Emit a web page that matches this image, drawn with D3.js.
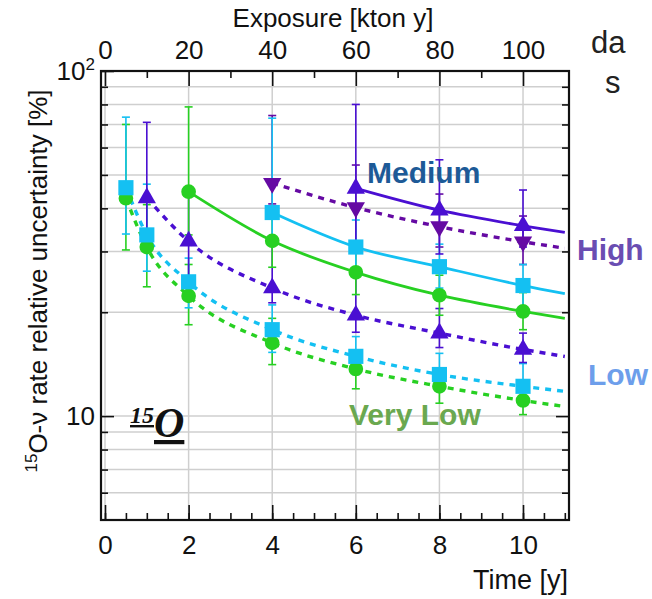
<!DOCTYPE html>
<html>
<head>
<meta charset="utf-8">
<script src="https://cdn.jsdelivr.net/npm/d3@7"></script>
<style>
  body { margin: 0; background: #fff; }
</style>
</head>
<body>
<div id="chart"></div>
<script>
// time ticks (bottom) and exposure ticks (top)
const timeTicks = [0, 2, 4, 6, 8, 10];
const exposureTicks = [0, 20, 40, 60, 80, 100];

// green circles, dashed
const vlDashT = [0.5, 1, 2, 4, 6, 8, 10];
const vlDashV = [42.8, 30.9, 22.3, 16.3, 13.7, 12.2, 11.1];
const vlDashLo = [30.3, 23.7, 18.4, 14.1, 12.0, 10.9, 10.1];
const vlDashHi = [70, 41, 27.5, 19.2, 15.5, 13.7, 12.3];

// cyan squares, dashed
const lowDashT = [0.5, 1, 2, 4, 6, 8, 10];
const lowDashV = [45.9, 33.5, 24.5, 17.8, 14.9, 13.2, 12.2];
const lowDashLo = [33.7, 26.3, 20.6, 15.3, 13.2, 11.8, 11.0];
const lowDashHi = [73.5, 47, 28.7, 21, 17, 15.2, 14.2];

// purple up triangles, dashed
const triDashT = [1, 2, 4, 6, 8, 10];
const triDashV = [42.9, 32.1, 23.5, 19.6, 17.4, 15.6];
const triDashLo = [30.9, 25.2, 21.3, 17.5, 15.8, 14.3];
const triDashHi = [71, 45.9, 31.9, 25.6, 20.5, 17.4];

// dark purple down triangles, dashed
const downDashT = [4, 6, 8, 10];
const downDashV = [47.3, 40.2, 35.4, 32.0];
const downDashLo = [41.2, 32.1, 30.9, 27.5];
const downDashHi = [74.3, 53.4, 44, 38];

// green circles, solid
const vlSolidT = [2, 4, 6, 8, 10];
const vlSolidV = [44.7, 32.2, 26.1, 22.4, 20.1];
const vlSolidLo = [33.5, 27, 22.5, 19.6, 17.8];
const vlSolidHi = [78.7, 39, 30.5, 25.6, 22.8];

// cyan squares, solid
const lowSolidT = [4, 6, 8, 10];
const lowSolidV = [38.9, 30.9, 27.1, 23.9];
const lowSolidLo = [32, 26.5, 23.5, 20.8];
const lowSolidHi = [73, 37, 31.5, 27.5];

// purple up triangles, solid
const triSolidT = [6, 8, 10];
const triSolidV = [45.7, 39.5, 35.6];
const triSolidLo = [32, 29.5, 30.9];
const triSolidHi = [80, 55.3, 45.2];

const green = "#27d022", cyan = "#14c0f2", purple = "#4a0fd2", darkPurple = "#650aa3";
const sans = "'Liberation Sans', Arial, sans-serif";

const series = [
  { t: vlDashT, v: vlDashV, lo: vlDashLo, hi: vlDashHi, color: green, shape: "circle", dash: true },
  { t: lowDashT, v: lowDashV, lo: lowDashLo, hi: lowDashHi, color: cyan, shape: "square", dash: true },
  { t: triDashT, v: triDashV, lo: triDashLo, hi: triDashHi, color: purple, shape: "up", dash: true },
  { t: downDashT, v: downDashV, lo: downDashLo, hi: downDashHi, color: darkPurple, shape: "down", dash: true },
  { t: vlSolidT, v: vlSolidV, lo: vlSolidLo, hi: vlSolidHi, color: green, shape: "circle", dash: false },
  { t: lowSolidT, v: lowSolidV, lo: lowSolidLo, hi: lowSolidHi, color: cyan, shape: "square", dash: false },
  { t: triSolidT, v: triSolidV, lo: triSolidLo, hi: triSolidHi, color: purple, shape: "up", dash: false }
];

const width = 652, height = 599;
const x = d3.scaleLinear().domain([-0.096, 11.1]).range([101, 569]);
const xE = d3.scaleLinear().domain(x.domain().map(d => d * 10)).range(x.range());
const y = d3.scaleLog().domain([5, 100]).range([520, 71]);

const svg = d3.select("#chart").append("svg")
  .attr("width", width).attr("height", height)
  .attr("font-family", sans);

// grid
const yGrid = [6, 7, 8, 9, 10, 20, 30, 40, 50, 60, 70, 80, 90];
svg.append("g").selectAll("line").data(yGrid).enter().append("line")
  .attr("x1", 101).attr("x2", 569)
  .attr("y1", d => y(d)).attr("y2", d => y(d))
  .attr("stroke", "#cfcfcf").attr("stroke-width", 1.5);
svg.append("g").selectAll("line").data(timeTicks).enter().append("line")
  .attr("x1", d => x(d)).attr("x2", d => x(d))
  .attr("y1", 71).attr("y2", 520)
  .attr("stroke", "#cfcfcf").attr("stroke-width", 1.5);

// axes
const bottomMinor = d3.range(0, 11.01, 0.5);
svg.append("g").attr("transform", "translate(0,520)")
  .call(d3.axisBottom(x).tickValues(bottomMinor).tickSize(-7).tickSizeOuter(0).tickFormat(""));
svg.append("g").attr("class", "bx").attr("transform", "translate(0,520)")
  .call(d3.axisBottom(x).tickValues(timeTicks).tickSize(-15).tickSizeOuter(0).tickPadding(16));

svg.append("g").attr("transform", "translate(0,71)")
  .call(d3.axisTop(xE).tickValues([10, 30, 50, 70, 90]).tickSize(-7).tickSizeOuter(0).tickFormat(""));
svg.append("g").attr("class", "tx").attr("transform", "translate(0,71)")
  .call(d3.axisTop(xE).tickValues(exposureTicks).tickSize(-15).tickSizeOuter(0).tickPadding(12));

const yMinor = [6, 7, 8, 9, 20, 30, 40, 50, 60, 70, 80, 90];
svg.append("g").attr("transform", "translate(101,0)")
  .call(d3.axisLeft(y).tickValues(yMinor).tickSize(-7).tickSizeOuter(0).tickFormat(""));
svg.append("g").attr("class", "ly").attr("transform", "translate(101,0)")
  .call(d3.axisLeft(y).tickValues([10, 100]).tickSize(-13).tickSizeOuter(0).tickPadding(6).tickFormat(""));
svg.append("g").attr("transform", "translate(569,0)")
  .call(d3.axisRight(y).tickValues(yMinor).tickSize(-7).tickSizeOuter(0).tickFormat(""));
svg.append("g").attr("transform", "translate(569,0)")
  .call(d3.axisRight(y).tickValues([10]).tickSize(-13).tickSizeOuter(0).tickFormat(""));

svg.selectAll(".domain").remove();
svg.selectAll(".tick line").attr("stroke", "#111").attr("stroke-width", 1.6);
svg.selectAll(".bx text, .tx text").attr("font-size", 26).attr("fill", "#111")
  .attr("font-family", sans);

// left labels 10 and 10^2
svg.select(".ly").selectAll(".tick text").each(function(d) {
  const t = d3.select(this).attr("font-size", 26).attr("fill", "#111")
    .attr("font-family", sans);
  t.text("10");
  if (d === 100) {
    t.append("tspan").attr("font-size", 17).attr("dy", "-0.6em").text("2");
  }
});

svg.append("rect").attr("x", 101).attr("y", 71).attr("width", 468).attr("height", 449)
  .attr("fill", "none").attr("stroke", "#111").attr("stroke-width", 2.2);

// lines
const line = d3.line().x(d => x(d[0])).y(d => y(d[1])).curve(d3.curveMonotoneX);
series.forEach(s => {
  const pts = s.t.map((t, i) => [t, s.v[i]]);
  const n = pts.length;
  const p = Math.log(pts[n - 1][1] / pts[n - 2][1]) / Math.log(pts[n - 1][0] / pts[n - 2][0]);
  pts.push([11, pts[n - 1][1] * Math.pow(11 / pts[n - 1][0], p)]);
  svg.append("path").datum(pts)
    .attr("d", line)
    .attr("fill", "none")
    .attr("stroke", s.color)
    .attr("stroke-width", s.dash ? 3.4 : 2.8)
    .attr("stroke-dasharray", s.dash ? "6,6" : null);
});

// error bars
series.forEach(s => {
  const g = svg.append("g").attr("stroke", s.color).attr("stroke-width", 1.6);
  s.t.forEach((t, i) => {
    g.append("line").attr("x1", x(t)).attr("x2", x(t))
      .attr("y1", y(s.lo[i])).attr("y2", y(s.hi[i]));
    [s.lo[i], s.hi[i]].forEach(e => {
      g.append("line").attr("x1", x(t) - 4).attr("x2", x(t) + 4)
        .attr("y1", y(e)).attr("y2", y(e));
    });
  });
});

// markers
const shapes = {
  circle: d3.symbol().type(d3.symbolCircle).size(170)(),
  square: d3.symbol().type(d3.symbolSquare).size(230)(),
  up: d3.symbol().type(d3.symbolTriangle).size(145)(),
  down: d3.symbol().type(d3.symbolTriangle).size(145)()
};
series.forEach(s => {
  svg.append("g").selectAll("path").data(s.t).enter().append("path")
    .attr("d", shapes[s.shape])
    .attr("transform", (t, i) => `translate(${x(t)},${y(s.v[i])})` + (s.shape === "down" ? " rotate(180)" : ""))
    .attr("fill", s.color);
});

// titles
svg.append("text").attr("x", 333).attr("y", 27).attr("text-anchor", "middle")
  .attr("font-size", 26).attr("fill", "#111").text("Exposure [kton y]");
svg.append("text").attr("x", 568).attr("y", 589).attr("text-anchor", "end")
  .attr("font-size", 27).attr("fill", "#111").text("Time [y]");

const yl = svg.append("text").attr("transform", "translate(47,281) rotate(-90)")
  .attr("text-anchor", "middle").attr("font-size", 26).attr("fill", "#111");
yl.append("tspan").attr("font-size", 17).attr("dy", "-0.6em").text("15");
yl.append("tspan").attr("dy", "0.4em").text("O-ν rate relative uncertainty [%]");

// 15O tag
const tag = svg.append("text").attr("x", 130).attr("y", 423)
  .attr("font-family", "'Liberation Serif', 'DejaVu Serif', serif")
  .attr("font-style", "italic").attr("font-weight", "bold").attr("fill", "#111")
  .style("text-decoration", "underline");
tag.append("tspan").attr("font-size", 24).text("15");
tag.append("tspan").attr("font-size", 42).attr("dy", 14).text("O");

// curve labels
const labels = [
  { text: "Medium", x: 367, y: 183, color: "#1d5a97" },
  { text: "High", x: 577, y: 260, color: "#6a4db2" },
  { text: "Low", x: 588, y: 385, color: "#6d9eeb" },
  { text: "Very Low", x: 349, y: 425, color: "#6aa84f" }
];
svg.append("g").selectAll("text").data(labels).enter().append("text")
  .attr("x", d => d.x).attr("y", d => d.y)
  .attr("font-size", 30).attr("font-weight", "bold")
  .attr("fill", d => d.color).text(d => d.text);

// cropped slide text on the right
svg.append("text").attr("x", 591).attr("y", 53).attr("font-size", 31).attr("fill", "#222").text("da");
svg.append("text").attr("x", 605).attr("y", 93).attr("font-size", 31).attr("fill", "#222").text("s");
</script>
</body>
</html>
